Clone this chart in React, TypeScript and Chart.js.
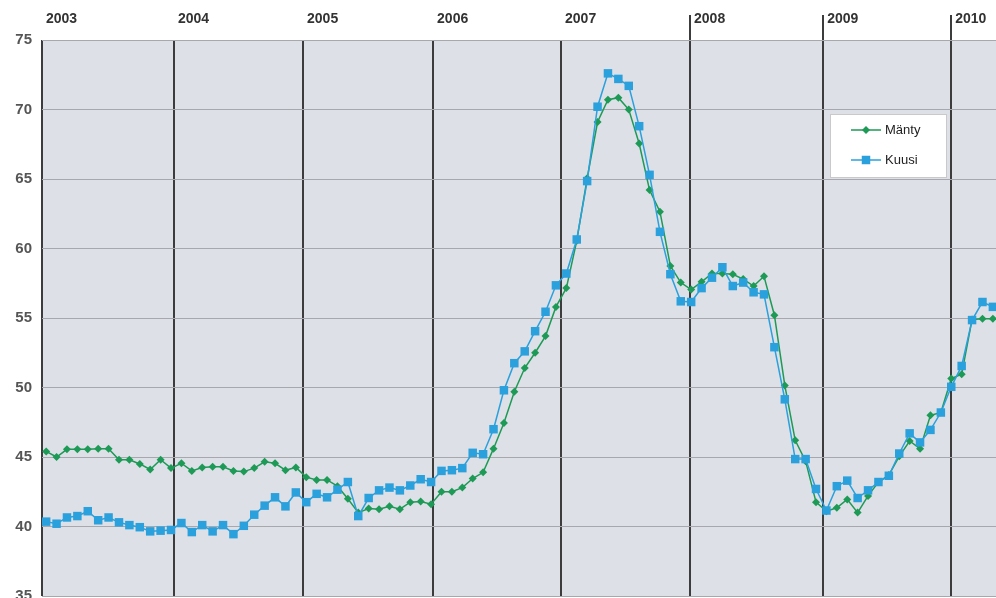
import React, { useEffect, useRef } from 'react';
import { Chart, registerables } from 'chart.js';

Chart.register(...registerables);

// Year labels and where the year boundaries fall on the point-index axis
const YEAR_LABELS = ['2003', '2004', '2005', '2006', '2007', '2008', '2009', '2010'];
const YEAR_POSITIONS = [-0.4, 12.3, 24.7, 37.2, 49.5, 61.9, 74.7, 87.0];

// Y axis ticks
const Y_TICKS = [35, 40, 45, 50, 55, 60, 65, 70, 75];

const SERIES_NAMES = ['Mänty', 'Kuusi'];

// Mänty (pine) price series
const MANTY = [
  45.4, 45.0, 45.55, 45.55, 45.55, 45.6, 45.6, 44.8, 44.8, 44.5,
  44.1, 44.8, 44.2, 44.55, 44.0, 44.25, 44.3, 44.3, 44.0, 43.95,
  44.2, 44.65, 44.55, 44.05, 44.25, 43.55, 43.35, 43.35, 42.9, 42.0,
  41.0, 41.3, 41.25, 41.45, 41.25, 41.75, 41.8, 41.6, 42.5, 42.5,
  42.8, 43.45, 43.9, 45.6, 47.45, 49.7, 51.4, 52.5, 53.7, 55.8,
  57.15, 60.55, 65.05, 69.1, 70.7, 70.85, 70.0, 67.55, 64.2, 62.65,
  58.75, 57.55, 57.05, 57.6, 58.2, 58.2, 58.15, 57.8, 57.3, 58.0,
  55.2, 50.15, 46.2, 44.7, 41.75, 41.1, 41.35, 41.95, 41.0, 42.2,
  43.2, 43.7, 45.05, 46.15, 45.6, 48.0, 48.2, 50.65, 50.95, 54.9,
  54.95, 54.95,
];

// Kuusi (spruce) price series
const KUUSI = [
  40.35, 40.2, 40.65, 40.75, 41.1, 40.45, 40.65, 40.3, 40.1, 39.95,
  39.65, 39.7, 39.75, 40.25, 39.6, 40.1, 39.65, 40.1, 39.45, 40.05,
  40.85, 41.5, 42.1, 41.45, 42.45, 41.75, 42.35, 42.1, 42.65, 43.2,
  40.75, 42.05, 42.6, 42.8, 42.6, 42.95, 43.4, 43.2, 44.0, 44.05,
  44.2, 45.3, 45.2, 47.0, 49.8, 51.75, 52.6, 54.05, 55.45, 57.35,
  58.2, 60.65, 64.85, 70.2, 72.6, 72.2, 71.7, 68.8, 65.3, 61.2,
  58.15, 56.2, 56.15, 57.15, 57.9, 58.65, 57.3, 57.55, 56.85, 56.7,
  52.9, 49.15, 44.85, 44.85, 42.7, 41.15, 42.9, 43.3, 42.05, 42.6,
  43.2, 43.65, 45.25, 46.7, 46.05, 46.95, 48.2, 50.05, 51.55, 54.85,
  56.15, 55.8,
];

const GREEN = '#1d9a55';
const BLUE = '#2aa0dc';
const FONT = '"Liberation Sans", Arial, sans-serif';

const plotBackground = {
  id: 'plotBackground',
  beforeDraw(chart: any) {
    const { ctx, chartArea } = chart;
    ctx.save();
    ctx.fillStyle = '#dde0e7';
    ctx.fillRect(chartArea.left, chartArea.top, chartArea.right - chartArea.left, chartArea.bottom - chartArea.top);
    ctx.restore();
  },
};

const boxedLegend = {
  id: 'boxedLegend',
  afterDraw(chart: any) {
    const ctx = chart.ctx;
    const bx = 830, by = 114, bw = 116, bh = 63;
    ctx.save();
    ctx.fillStyle = '#ffffff';
    ctx.fillRect(bx, by, bw, bh);
    ctx.strokeStyle = '#c9c9c9';
    ctx.lineWidth = 1;
    ctx.strokeRect(bx + 0.5, by + 0.5, bw, bh);
    chart.data.datasets.forEach((ds: any, i: number) => {
      const y = by + 16 + i * 30;
      ctx.strokeStyle = ds.borderColor;
      ctx.lineWidth = 1.5;
      ctx.beginPath();
      ctx.moveTo(851, y);
      ctx.lineTo(881, y);
      ctx.stroke();
      ctx.fillStyle = ds.pointBackgroundColor;
      const cx = 866;
      ctx.beginPath();
      if (ds.pointStyle === 'rectRot') {
        const r = ds.pointRadius;
        ctx.moveTo(cx, y - r);
        ctx.lineTo(cx + r, y);
        ctx.lineTo(cx, y + r);
        ctx.lineTo(cx - r, y);
        ctx.closePath();
      } else {
        const h = ds.pointRadius * Math.SQRT1_2;
        ctx.rect(cx - h, y - h, 2 * h, 2 * h);
      }
      ctx.fill();
      ctx.fillStyle = '#222';
      ctx.font = `13px ${FONT}`;
      ctx.textBaseline = 'middle';
      ctx.textAlign = 'left';
      ctx.fillText(ds.label, 885, y);
    });
    ctx.restore();
  },
};

export default function App() {
  const canvasRef = useRef<HTMLCanvasElement | null>(null);

  useEffect(() => {
    if (!canvasRef.current) return;
    const chart = new Chart(canvasRef.current, {
      type: 'line',
      data: {
        datasets: [
          {
            label: SERIES_NAMES[0],
            data: MANTY.map((v, i) => ({ x: i, y: v })),
            borderColor: GREEN,
            backgroundColor: GREEN,
            pointBackgroundColor: GREEN,
            pointBorderColor: GREEN,
            pointStyle: 'rectRot',
            pointRadius: 4,
            pointBorderWidth: 0,
            borderWidth: 1.5,
            tension: 0,
            order: 1,
          } as any,
          {
            label: SERIES_NAMES[1],
            data: KUUSI.map((v, i) => ({ x: i, y: v })),
            borderColor: BLUE,
            backgroundColor: BLUE,
            pointBackgroundColor: BLUE,
            pointBorderColor: BLUE,
            pointStyle: 'rect',
            pointRadius: 6,
            pointBorderWidth: 0,
            borderWidth: 1.5,
            tension: 0,
            order: 0,
          } as any,
        ],
      },
      options: {
        animation: false,
        responsive: false,
        maintainAspectRatio: false,
        layout: { autoPadding: false, padding: { top: 0, left: 0, right: 0, bottom: 24 } },
        plugins: {
          legend: { display: false },
          tooltip: { enabled: false },
        },
        scales: {
          x: {
            type: 'linear',
            position: 'top',
            min: YEAR_POSITIONS[0],
            max: 91.3,
            afterBuildTicks: (s: any) => {
              s.ticks = YEAR_POSITIONS.map((v) => ({ value: v }));
            },
            afterFit: (s: any) => {
              s.height = 40;
              s.paddingLeft = 0;
              s.paddingRight = 0;
            },
            ticks: {
              align: 'start',
              padding: -13,
              autoSkip: false,
              maxRotation: 0,
              color: '#333',
              font: { family: FONT, size: 14, weight: 'bold' },
              callback: (_v: any, i: number) => ' ' + YEAR_LABELS[i],
            },
            grid: {
              color: '#3c3c3c',
              lineWidth: 2,
              drawTicks: true,
              tickLength: 25,
              tickWidth: 2,
              tickColor: (ctx: any) => (ctx.index >= 5 ? '#3c3c3c' : 'rgba(0,0,0,0)'),
            },
            border: { display: false },
          } as any,
          y: {
            min: 35,
            max: 75,
            afterBuildTicks: (s: any) => {
              s.ticks = Y_TICKS.map((v) => ({ value: v }));
            },
            afterFit: (s: any) => {
              s.width = 42;
            },
            ticks: {
              padding: 10,
              color: '#555',
              font: { family: FONT, size: 15, weight: 'bold' },
            },
            grid: { color: '#a6a8ae', lineWidth: 1, drawTicks: false },
            border: { display: false },
          } as any,
        },
      },
      plugins: [plotBackground, boxedLegend],
    });
    return () => chart.destroy();
  }, []);

  return (
    <div
      style={{
        position: 'fixed',
        left: 0,
        top: 0,
        width: 996,
        height: 598,
        overflow: 'hidden',
        background: '#ffffff',
      }}
    >
      <canvas ref={canvasRef} width={996} height={620} style={{ display: 'block' }} />
    </div>
  );
}
